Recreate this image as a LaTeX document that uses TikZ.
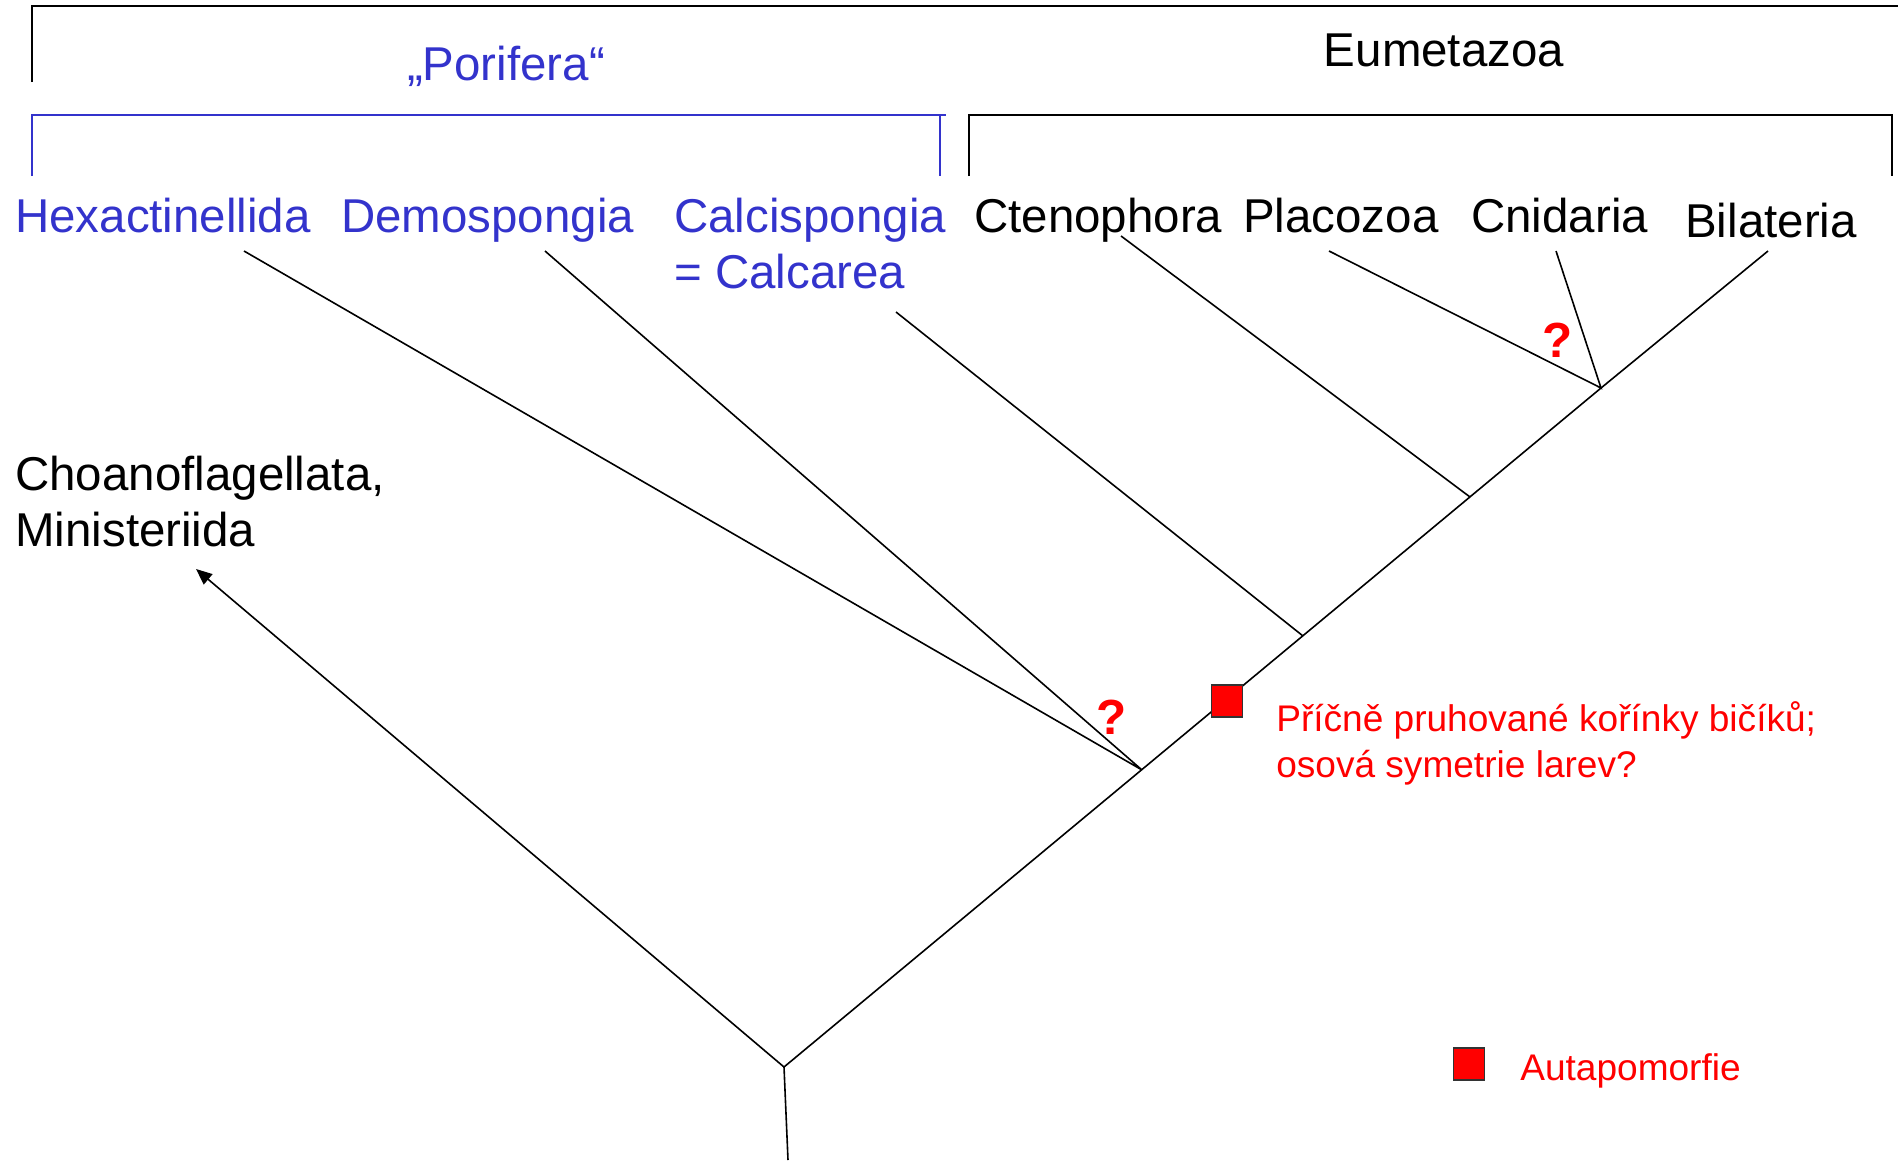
\documentclass[tikz,border=0pt]{standalone}
\usepackage{fontspec}
\setmainfont{Liberation Sans}
\usetikzlibrary{arrows.meta}
\definecolor{porblue}{RGB}{51,51,204}
\tikzset{
  taxon/.style={anchor=base west,inner sep=0.75pt,font=\fontsize{35.6}{42}\selectfont,align=left},
  note/.style={anchor=base west,inner sep=0.75pt,text=red,font=\fontsize{27.8}{34.5}\selectfont,align=left},
  query/.style={inner sep=0pt,text=red,font=\bfseries\fontsize{37}{40}\selectfont},
  apo/.style={draw=black!80,line width=1pt,fill=red,minimum width=23pt,minimum height=24pt,inner sep=0pt},
  branch/.style={line width=1.2pt},
  bracket/.style={line width=1.5pt}
}

\begin{document}
\begin{tikzpicture}[x=0.75pt,y=0.75pt,yscale=-1]
\useasboundingbox (0,0) rectangle (1898,1160);

%Straight Lines
\draw [bracket] (31.5,82) -- (31.5,6) -- (1898,6) ;
%Straight Lines
\draw [bracket,porblue] (31.5,176) -- (31.5,115) -- (946,115) (940,115) -- (940,176) ;
%Straight Lines
\draw [bracket] (969,176) -- (969,115) -- (1892,115) -- (1892,176) ;

% Text Node
\draw (506,80) node (poriname) [taxon,anchor=base,text=porblue] {„Porifera“};
% Text Node
\draw (1444,66) node (eumename) [taxon,anchor=base] {Eumetazoa};
% Text Node
\draw (14,232) node (hexa) [taxon,text=porblue] {Hexactinellida};
% Text Node
\draw (340,232) node (demo) [taxon,text=porblue] {Demospongia};
% Text Node
\draw (673,288) node (calci) [taxon,text=porblue] {Calcispongia\\= Calcarea};
% Text Node
\draw (973,232) node (cteno) [taxon] {Ctenophora};
% Text Node
\draw (1242,232) node (placo) [taxon] {Placozoa};
% Text Node
\draw (1470,232) node (cnid) [taxon] {Cnidaria};
% Text Node
\draw (1684,237) node (bila) [taxon] {Bilateria};
% Text Node
\draw (14,546) node (choano) [taxon] {Choanoflagellata,\\Ministeriida};

%Tree
\coordinate (root) at (784,1067);
\coordinate (base) at (788,1160);
\coordinate (choano tip) at (196,569);
\coordinate (eume node) at (1601,388);
\coordinate (pori node) at (1142,770);
\coordinate (calci node) at (1303,636);
\coordinate (cteno node) at (1470,497);
\coordinate (hexa end) at (244,251);
\coordinate (demo end) at (545,251);
\coordinate (calci end) at (896,312);
\coordinate (cteno end) at (1121,236);
\coordinate (placo end) at (1329,251);
\coordinate (cnid end) at (1556,251);
\coordinate (bila end) at (1768,251);

%Straight Lines
\draw [branch] (base) -- (root) -- (eume node) ;
\draw [branch,-{Triangle[length=12pt,width=10pt]}] (root) -- (choano tip) ;
\draw [branch] (hexa end) -- (pori node) -- (demo end) ;
\draw [branch] (calci end) -- (calci node) ;
\draw [branch] (cteno end) -- (cteno node) ;
\draw [branch] (placo end) -- (eume node) -- (cnid end) ;
\draw [branch] (eume node) -- (bila end) ;

%Autapomorphy
\draw (1227,701) node (apo eume) [apo] {};
\draw (1275,777) node (apo text) [note] {Příčně pruhované kořínky bičíků;\\osová symetrie larev?};
\draw (1112,717) node (pori query) [query] {?};
\draw (1558,340) node (eume query) [query] {?};

%Legend
\draw (1469,1064) node (legend box) [apo] {};
\draw (1519,1080) node (legend text) [note] {Autapomorfie};

\end{tikzpicture}
\end{document}
